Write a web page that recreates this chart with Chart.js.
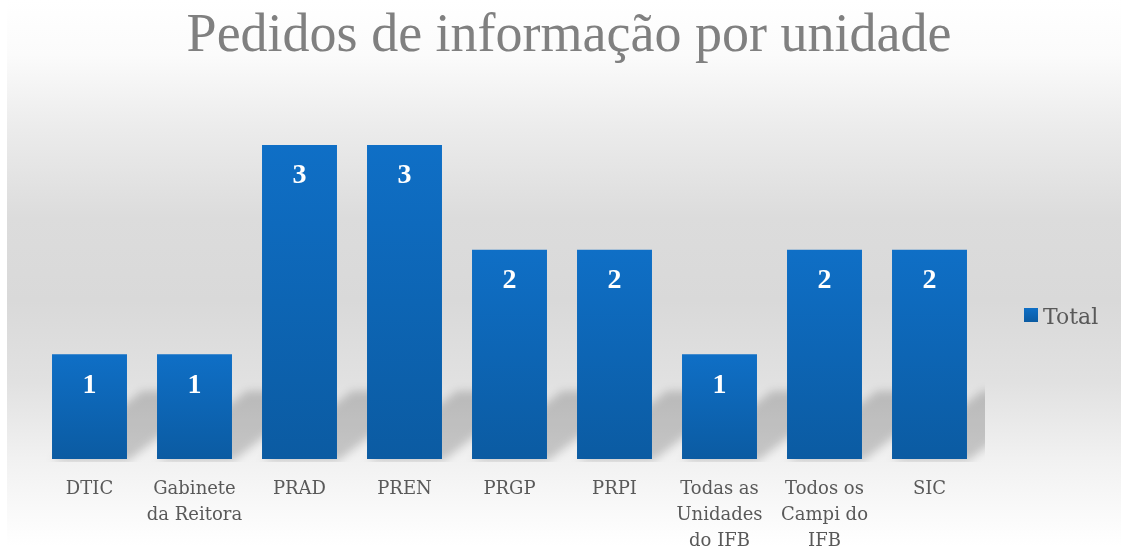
<!DOCTYPE html>
<html>
<head>
<meta charset="utf-8">
<script src="https://cdn.jsdelivr.net/npm/chart.js@4.4.1/dist/chart.umd.min.js"></script>
<style>
  html, body { margin: 0; padding: 0; background: #ffffff; }
  #wrap { width: 1121px; height: 546px; }
</style>
</head>
<body>
<div id="wrap"><canvas id="chart" width="1121" height="546"></canvas></div>
<script>
const categories = [
    'DTIC',
    ['Gabinete', 'da Reitora'],
    'PRAD',
    'PREN',
    'PRGP',
    'PRPI',
    ['Todas as', 'Unidades', 'do IFB'],
    ['Todos os', 'Campi do', 'IFB'],
    'SIC'
];
const totals = [1, 1, 3, 3, 2, 2, 1, 2, 2];
const seriesName = 'Total';
const titleText = 'Pedidos de informação por unidade';

function barGradient(ctx, top, bottom) {
    const g = ctx.createLinearGradient(0, top, 0, bottom);
    g.addColorStop(0, '#0f6fc6');
    g.addColorStop(1, '#0b5ba2');
    return g;
}

// page background
const backdrop = {
    id: 'backdrop',
    beforeDraw(chart) {
        const ctx = chart.ctx;
        const h = chart.height;
        ctx.save();
        ctx.fillStyle = '#ffffff';
        ctx.fillRect(0, 0, chart.width, h);
        const g = ctx.createLinearGradient(0, 0, 0, h);
        g.addColorStop(0, '#ffffff');
        g.addColorStop(0.1, '#fbfbfb');
        g.addColorStop(0.24, '#ebebeb');
        g.addColorStop(0.4, '#dcdcdc');
        g.addColorStop(0.55, '#d9d9d9');
        g.addColorStop(0.7, '#e1e1e1');
        g.addColorStop(0.84, '#f1f1f1');
        g.addColorStop(1, '#ffffff');
        ctx.fillStyle = g;
        ctx.fillRect(7, 0, chart.width - 7, h);
        ctx.restore();
    }
};

// soft shadows cast back and to the right of each bar
const floorShadow = {
    id: 'floorShadow',
    beforeDatasetsDraw(chart) {
        const ctx = chart.ctx;
        const a = chart.chartArea;
        const meta = chart.getDatasetMeta(0);
        ctx.save();
        ctx.beginPath();
        ctx.rect(a.left, a.top, a.right + 3 - a.left, a.bottom + 3 - a.top);
        ctx.clip();
        ctx.filter = 'blur(4px)';
        ctx.fillStyle = 'rgba(0,0,0,0.18)';
        meta.data.forEach((bar) => {
            const l = bar.x - bar.width / 2;
            const r = bar.x + bar.width / 2;
            const b = bar.base;
            ctx.beginPath();
            ctx.moveTo(l, b + 2);
            ctx.lineTo(r + 1, b + 2);
            ctx.lineTo(r + 90, b - 68);
            ctx.lineTo(l + 90, b - 68);
            ctx.closePath();
            ctx.fill();
        });
        ctx.restore();
    }
};

// white value labels inside bars
const valueLabels = {
    id: 'valueLabels',
    afterDatasetsDraw(chart) {
        const ctx = chart.ctx;
        const meta = chart.getDatasetMeta(0);
        ctx.save();
        ctx.fillStyle = '#ffffff';
        ctx.font = 'bold 28px "Liberation Serif", serif';
        ctx.textAlign = 'center';
        ctx.textBaseline = 'middle';
        meta.data.forEach((bar, i) => {
            ctx.fillText(String(totals[i]), bar.x, bar.y + 31);
        });
        ctx.restore();
    }
};

// legend on the right
const sideLegend = {
    id: 'sideLegend',
    afterDraw(chart) {
        const ctx = chart.ctx;
        const x = 1024, y = 308;
        ctx.save();
        ctx.fillStyle = barGradient(ctx, y, y + 14);
        ctx.fillRect(x, y, 14, 14);
        ctx.fillStyle = '#595959';
        ctx.font = '22px "DejaVu Serif", serif';
        ctx.textAlign = 'left';
        ctx.textBaseline = 'alphabetic';
        ctx.fillText(seriesName, x + 19, y + 16);
        ctx.restore();
    }
};

new Chart(document.getElementById('chart'), {
    type: 'bar',
    data: {
        labels: categories,
        datasets: [{
            label: seriesName,
            data: totals,
            borderWidth: 0,
            backgroundColor: (context) => {
                const chart = context.chart;
                if (!chart.chartArea || context.type !== 'data') return '#0e66b6';
                const yScale = chart.scales.y;
                const top = yScale.getPixelForValue(context.parsed.y);
                const bottom = yScale.getPixelForValue(0);
                return barGradient(chart.ctx, top, bottom);
            },
            barPercentage: 0.714,
            categoryPercentage: 1.0,
        }]
    },
    options: {
        responsive: false,
        animation: false,
        layout: {
            padding: { left: 37, right: 20, top: 0, bottom: 0 }
        },
        plugins: {
            title: {
                display: true,
                text: titleText,
                color: '#808080',
                font: { family: '"Liberation Serif", serif', size: 54, weight: 'normal' },
                padding: { top: 4, bottom: 24 },
            },
            legend: {
                display: false
            },
            tooltip: { enabled: false },
        },
        scales: {
            x: {
                grid: { display: false },
                border: { display: false },
                ticks: {
                    color: '#595959',
                    font: { family: '"DejaVu Serif", serif', size: 18, lineHeight: 1.42 },
                    padding: 10,
                    maxRotation: 0,
                    autoSkip: false,
                },
                afterFit(scale) {
                    scale.height = 87;
                }
            },
            y: {
                position: 'right',
                min: 0,
                max: 3.5,
                grid: { display: false },
                border: { display: false },
                ticks: { display: false },
                // room for the legend beside the plot
                afterFit(scale) {
                    scale.width = 119;
                }
            }
        }
    },
    plugins: [backdrop, floorShadow, valueLabels, sideLegend]
});
</script>
</body>
</html>
